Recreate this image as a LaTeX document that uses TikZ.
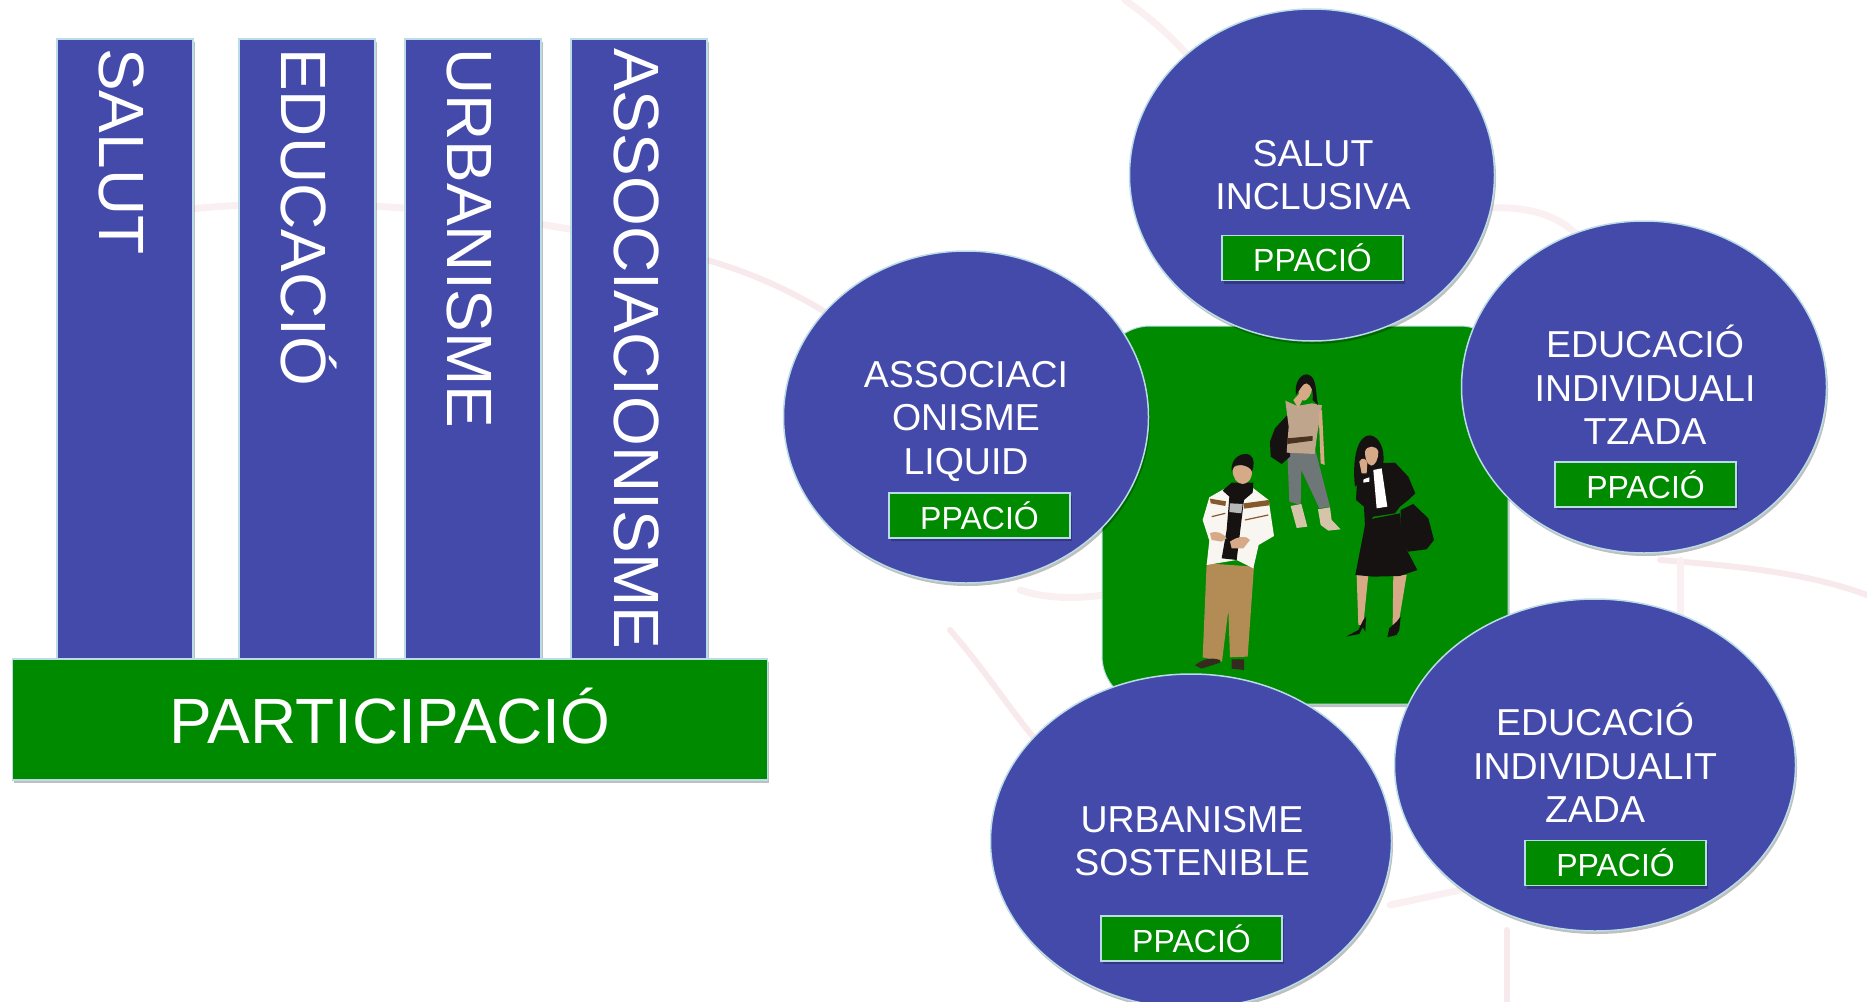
\documentclass[tikz,border=0pt]{standalone}
\usepackage{fontspec}
\setmainfont{Liberation Sans}
\usetikzlibrary{shapes.geometric,shadows}
\definecolor{blu}{RGB}{68,74,170}
\definecolor{grn}{RGB}{0,138,0}
\definecolor{edge}{RGB}{185,220,230}
\definecolor{faint}{RGB}{250,240,242}
\definecolor{faint2}{RGB}{248,233,236}
\definecolor{skin}{RGB}{214,170,135}
\definecolor{tan2}{RGB}{178,140,84}
\definecolor{dark}{RGB}{22,18,18}
\definecolor{beige}{RGB}{190,165,140}
\definecolor{jeans}{RGB}{110,118,120}
\definecolor{boot}{RGB}{214,196,170}
\tikzset{
  shade1/.style={general shadow={shadow xshift=1.5pt,shadow yshift=-3pt,fill=black,opacity=.25}},
  pillar/.style={draw=edge,line width=1.2pt,fill=blu,rectangle,inner sep=0,minimum width=136pt,minimum height=620pt,shade1},
  base/.style={draw=edge,line width=1.2pt,fill=grn,rectangle,inner sep=0,minimum width=755pt,minimum height=121pt,shade1},
  blob/.style={draw=edge,line width=1.5pt,fill=blu,ellipse,inner sep=0,shade1},
  lab/.style={text=white,align=center,inner sep=0,font=\fontsize{37.5}{43.5}\selectfont},
  tag/.style={draw=edge,line width=1.5pt,fill=grn,rectangle,inner sep=0,minimum width=181pt,minimum height=45pt,text=white,font=\fontsize{32}{32}\selectfont,shade1},
  vtext/.style={rotate=-90,anchor=base west,text=white,inner sep=0,font=\fontsize{64}{64}\selectfont},
  bgline/.style={draw=faint,line width=7pt,line cap=round},
  bgline2/.style={draw=faint2,line width=6pt,line cap=round},
}
\begin{document}
\begin{tikzpicture}[x=1pt,y=-1pt]
\useasboundingbox (0,0) rectangle (1867,1001);
\clip (0,0) rectangle (1867,1001);
% faint background marks
\draw[bgline] (190,209) .. controls (330,195) and (520,210) .. (700,258);
\draw[bgline2] (700,258) .. controls (750,272) and (790,290) .. (830,315);
\draw[bgline] (1125,0) .. controls (1160,25) and (1180,45) .. (1200,70);
\draw[bgline] (1490,208) .. controls (1550,205) and (1590,230) .. (1600,280);
\draw[bgline2] (1660,560) .. controls (1720,565) and (1800,570) .. (1867,595);
\draw[bgline] (1680,560) -- (1680,625);
\draw[bgline2] (1507,930) -- (1507,1001);
\draw[bgline] (1390,905) -- (1507,880);
\draw[bgline2] (950,630) .. controls (985,670) and (1010,710) .. (1040,745);
\draw[bgline] (1020,590) .. controls (1050,600) and (1080,598) .. (1105,595);
% pillars
\node[pillar] (p1) at (125,349) {};
\node[pillar] (p2) at (307,349) {};
\node[pillar] (p3) at (473,349) {};
\node[pillar] (p4) at (639,349) {};
\node[vtext] (t1) at (99,48) {SALUT};
\node[vtext] (t2) at (281,48) {EDUCACIÓ};
\node[vtext] (t3) at (447,48) {URBANISME};
\node[vtext] (t4) at (614,48) {ASSOCIACIONISME};
\node[base] (b) at (390,719.5) {};
\node[text=white,inner sep=0,font=\fontsize{64}{64}\selectfont] (bt) at (390,716.5) {PARTICIPACIÓ};
% central panel
\node[draw=edge,line width=1pt,fill=grn,rectangle,rounded corners=48pt,inner sep=0,minimum width=406pt,minimum height=378pt,shade1] (panel) at (1305,515) {};
% people, in 3x crop coordinates
\begin{scope}[shift={(1080,300)},x=0.3333pt,y=-0.3333pt]
% man
\fill[tan2] (380,790) -- (368,1072) -- (426,1085) -- (445,930) -- (450,1072) -- (503,1070) -- (522,800) -- cycle;
\fill[dark!80!tan2] (345,1096) .. controls (365,1080) and (390,1070) .. (420,1080) -- (420,1088) -- (365,1106) -- cycle;
\fill[dark!80!tan2] (455,1078) -- (492,1078) -- (492,1110) -- (455,1106) -- cycle;
\fill[white!92!tan2] (430,568) -- (388,592) -- (368,660) -- (388,722) -- (380,795) -- (470,780) -- (520,805) -- (536,735) -- (582,708) -- (566,600) -- (520,565) -- cycle;
\fill[dark] (428,572) -- (455,548) -- (520,548) -- (518,578) -- (492,600) -- (470,780) -- (425,775) -- (440,690) -- (448,590) -- cycle;
\fill[white!70!dark] (450,610) -- (488,612) -- (484,640) -- (448,636) -- cycle;
\fill[brown!70!black] (390,596) -- (438,604) -- (436,618) -- (392,610) -- cycle;
\fill[brown!70!black] (492,610) -- (566,600) -- (568,616) -- (492,626) -- cycle;
\draw[brown!70!black,line width=1.2pt] (395,650) -- (436,640) (495,660) -- (565,645);
\fill[skin] (390,700) .. controls (410,690) and (430,700) .. (440,715) -- (425,725) -- (395,720) -- cycle;
\fill[skin] (450,725) .. controls (470,710) and (500,705) .. (510,720) -- (490,745) -- (455,745) -- cycle;
\fill[skin] (458,510) .. controls (458,490) and (515,490) .. (516,510) .. controls (518,540) and (500,552) .. (488,552) .. controls (472,552) and (458,535) .. (458,510) -- cycle;
\fill[dark] (455,515) .. controls (450,470) and (490,455) .. (510,465) .. controls (525,475) and (522,500) .. (516,515) .. controls (510,495) and (470,490) .. (462,500) -- cycle;
% middle woman
\fill[jeans] (622,455) -- (628,605) -- (662,615) -- (664,510) -- (718,625) -- (750,620) -- (706,450) -- cycle;
\fill[boot] (632,618) -- (664,612) -- (682,680) -- (650,684) -- cycle;
\fill[boot] (714,628) -- (750,622) -- (755,660) -- (782,688) -- (745,692) -- (722,675) -- cycle;
\fill[dark] (622,345) -- (585,385) -- (570,425) -- (572,470) -- (605,492) -- (630,470) -- (632,380) -- cycle;
\fill[beige] (616,302) -- (652,318) -- (696,310) -- (726,316) -- (712,400) -- (704,462) -- (620,458) -- (626,380) -- cycle;
\fill[dark!70!brown] (622,415) -- (698,408) -- (698,422) -- (622,432) -- cycle;
\fill[skin] (716,340) -- (726,330) -- (734,495) -- (722,490) -- cycle;
\fill[skin] (654,258) .. controls (655,240) and (695,240) .. (696,262) .. controls (696,285) and (680,302) .. (672,302) .. controls (662,302) and (654,280) .. (654,258) -- cycle;
\fill[dark] (648,285) .. controls (642,245) and (665,218) .. (685,224) .. controls (712,232) and (706,280) .. (714,315) -- (698,300) .. controls (700,275) and (696,255) .. (680,250) .. controls (668,248) and (660,270) .. (648,285) -- cycle;
\fill[skin] (640,300) -- (668,270) -- (672,290) -- (655,325) -- cycle;
% right woman
\fill[skin] (830,825) -- (865,825) -- (850,975) -- (835,975) -- cycle;
\fill[skin] (940,825) -- (980,825) -- (955,975) -- (938,975) -- cycle;
\fill[dark] (798,1010) -- (835,990) -- (850,960) -- (858,950) -- (856,995) -- (848,982) -- (838,1002) -- cycle;
\fill[dark] (922,1012) -- (928,985) -- (950,965) -- (962,950) -- (958,990) -- (950,1005) -- cycle;
\fill[dark] (962,630) -- (1000,612) -- (1045,655) -- (1062,720) -- (1040,748) -- (985,755) -- (960,720) -- cycle;
\fill[dark] (858,660) -- (960,640) -- (965,720) -- (1012,810) -- (960,828) -- (880,830) -- (826,825) -- cycle;
\fill[dark] (832,530) -- (868,490) -- (945,488) -- (985,530) -- (1006,580) -- (985,600) -- (960,620) -- (945,640) -- (880,650) -- (855,680) -- (852,620) -- (828,600) -- cycle;
\fill[white] (880,510) -- (905,505) -- (922,620) -- (890,625) -- cycle;
\fill[white] (850,538) -- (868,532) -- (868,545) -- (850,548) -- cycle;
\fill[dark] (825,560) .. controls (815,470) and (835,405) .. (870,406) .. controls (900,410) and (915,450) .. (910,490) -- (890,490) -- (860,530) -- cycle;
\fill[skin] (855,455) .. controls (860,435) and (890,435) .. (895,455) .. controls (895,480) and (885,495) .. (875,497) .. controls (860,495) and (855,475) .. (855,455) -- cycle;
\fill[skin] (838,485) .. controls (845,470) and (860,475) .. (862,490) -- (860,520) -- (845,520) -- cycle;
\end{scope}
% circles
\node[blob,minimum width=365pt,minimum height=332pt] (e1) at (1312,175) {};
\node[blob,minimum width=365pt,minimum height=332pt] (e2) at (1644,387) {};
\node[blob,minimum width=365pt,minimum height=332pt] (e3) at (966,417) {};
\node[blob,minimum width=401pt,minimum height=334pt] (e4) at (1191,841) {};
\node[blob,minimum width=401pt,minimum height=332pt] (e5) at (1595,765) {};
\node[lab] (l1) at (1313,175) {SALUT\\INCLUSIVA};
\node[lab] (l2) at (1645,385) {EDUCACIÓ\\INDIVIDUALI\\TZADA};
\node[lab] (l3) at (966,421) {ASSOCIACI\\ONISME\\LIQUID};
\node[lab] (l4) at (1192,841) {URBANISME\\SOSTENIBLE};
\node[lab] (l5) at (1595,763) {EDUCACIÓ\\INDIVIDUALIT\\ZADA};
% tags
\node[tag] (g1) at (1312.5,258) {PPACIÓ};
\node[tag] (g2) at (1645.5,484.5) {PPACIÓ};
\node[tag] (g3) at (979.5,515.5) {PPACIÓ};
\node[tag] (g4) at (1191.5,938.5) {PPACIÓ};
\node[tag] (g5) at (1615.5,863) {PPACIÓ};
\end{tikzpicture}
\end{document}
